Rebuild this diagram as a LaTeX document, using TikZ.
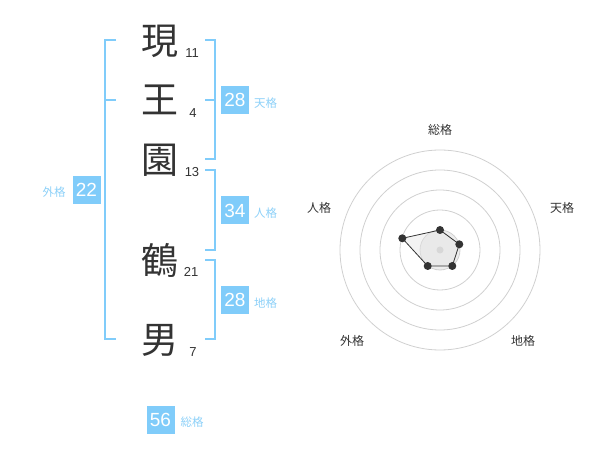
\documentclass[tikz,border=0pt]{standalone}
\usepackage{fontspec}
\setmainfont{Liberation Sans}
\newfontfamily\cjk{Noto Sans CJK JP}
\definecolor{lb}{RGB}{128,204,250}
\definecolor{lbt}{RGB}{140,208,248}
\definecolor{txt}{RGB}{51,51,51}
\definecolor{ring}{RGB}{208,208,208}
\begin{document}
\begin{tikzpicture}[x=1pt,y=-1pt,
  kanji/.style={font=\cjk\fontsize{37}{37}\selectfont, text=txt, inner sep=0pt},
  strokes/.style={font=\fontsize{13}{13}\selectfont, text=txt, inner sep=0pt},
  numbox/.style={fill=lb, text=white, minimum width=28pt, minimum height=28pt, inner sep=0pt, font=\fontsize{19}{19}\selectfont},
  lbl/.style={text=lbt, font=\cjk\fontsize{11.5}{12}\selectfont, inner sep=0pt},
  axislbl/.style={text=txt, font=\cjk\fontsize{12}{12}\selectfont, inner sep=0pt},
  bracket/.style={draw=lb, line width=2pt},
  ringline/.style={draw=ring, line width=0.8pt},
  dot/.style={circle, fill=txt, inner sep=0pt, minimum size=8pt}]
\useasboundingbox (0,0) rectangle (600,470);
% characters
\node[kanji] (c1) at (160,41) {現};
\node[kanji] (c2) at (160,100) {王};
\node[kanji] (c3) at (160,160) {園};
\node[kanji] (c4) at (160,260) {鶴};
\node[kanji] (c5) at (160,340) {男};
\node[strokes] (n1) at (192,53) {11};
\node[strokes] (n2) at (193,113) {4};
\node[strokes] (n3) at (192,172) {13};
\node[strokes] (n4) at (191,272) {21};
\node[strokes] (n5) at (193,352) {7};
% brackets
\draw[bracket] (116,40) -- (104.5,40) -- (104.5,339) -- (116,339);
\draw[bracket] (104.5,100) -- (116,100);
\draw[bracket] (205,40) -- (214.5,40) -- (214.5,159) -- (205,159);
\draw[bracket] (214.5,100) -- (205,100);
\draw[bracket] (205,170) -- (214.5,170) -- (214.5,250) -- (205,250);
\draw[bracket] (205,260) -- (214.5,260) -- (214.5,339) -- (205,339);
% boxes
\node[numbox] (gai) at (86.5,190) {22};
\node[lbl] (gail) at (54,192) {外格};
\node[numbox] (ten) at (235,100) {28};
\node[lbl] (tenl) at (265.5,103) {天格};
\node[numbox] (jin) at (235,210.5) {34};
\node[lbl] (jinl) at (265.5,213.5) {人格};
\node[numbox] (chi) at (235,300) {28};
\node[lbl] (chil) at (265.5,303) {地格};
\node[numbox] (sou) at (160.5,420) {56};
\node[lbl] (soul) at (192,422) {総格};
% radar
\coordinate (o) at (440,250);
\fill[gray!14] (o) circle (20);
\foreach \r in {20,40,60,80,100} \draw[ringline] (o) circle (\r);
\fill[gray!40] (o) circle (3.5);
\coordinate (p1) at (440,230);
\coordinate (p2) at (459.3,244.3);
\coordinate (p3) at (452.3,266);
\coordinate (p4) at (427.7,266);
\coordinate (p5) at (402.3,238.3);
\draw[fill=gray!20, fill opacity=0.45, draw=txt, line width=0.8pt] (p1) -- (p2) -- (p3) -- (p4) -- (p5) -- cycle;
\foreach \p in {p1,p2,p3,p4,p5} \node[dot] at (\p) {};
\node[axislbl] (a1) at (440,130) {総格};
\node[axislbl] (a2) at (562,208) {天格};
\node[axislbl] (a3) at (523,341) {地格};
\node[axislbl] (a4) at (352,341) {外格};
\node[axislbl] (a5) at (319,208) {人格};
\end{tikzpicture}
\end{document}
